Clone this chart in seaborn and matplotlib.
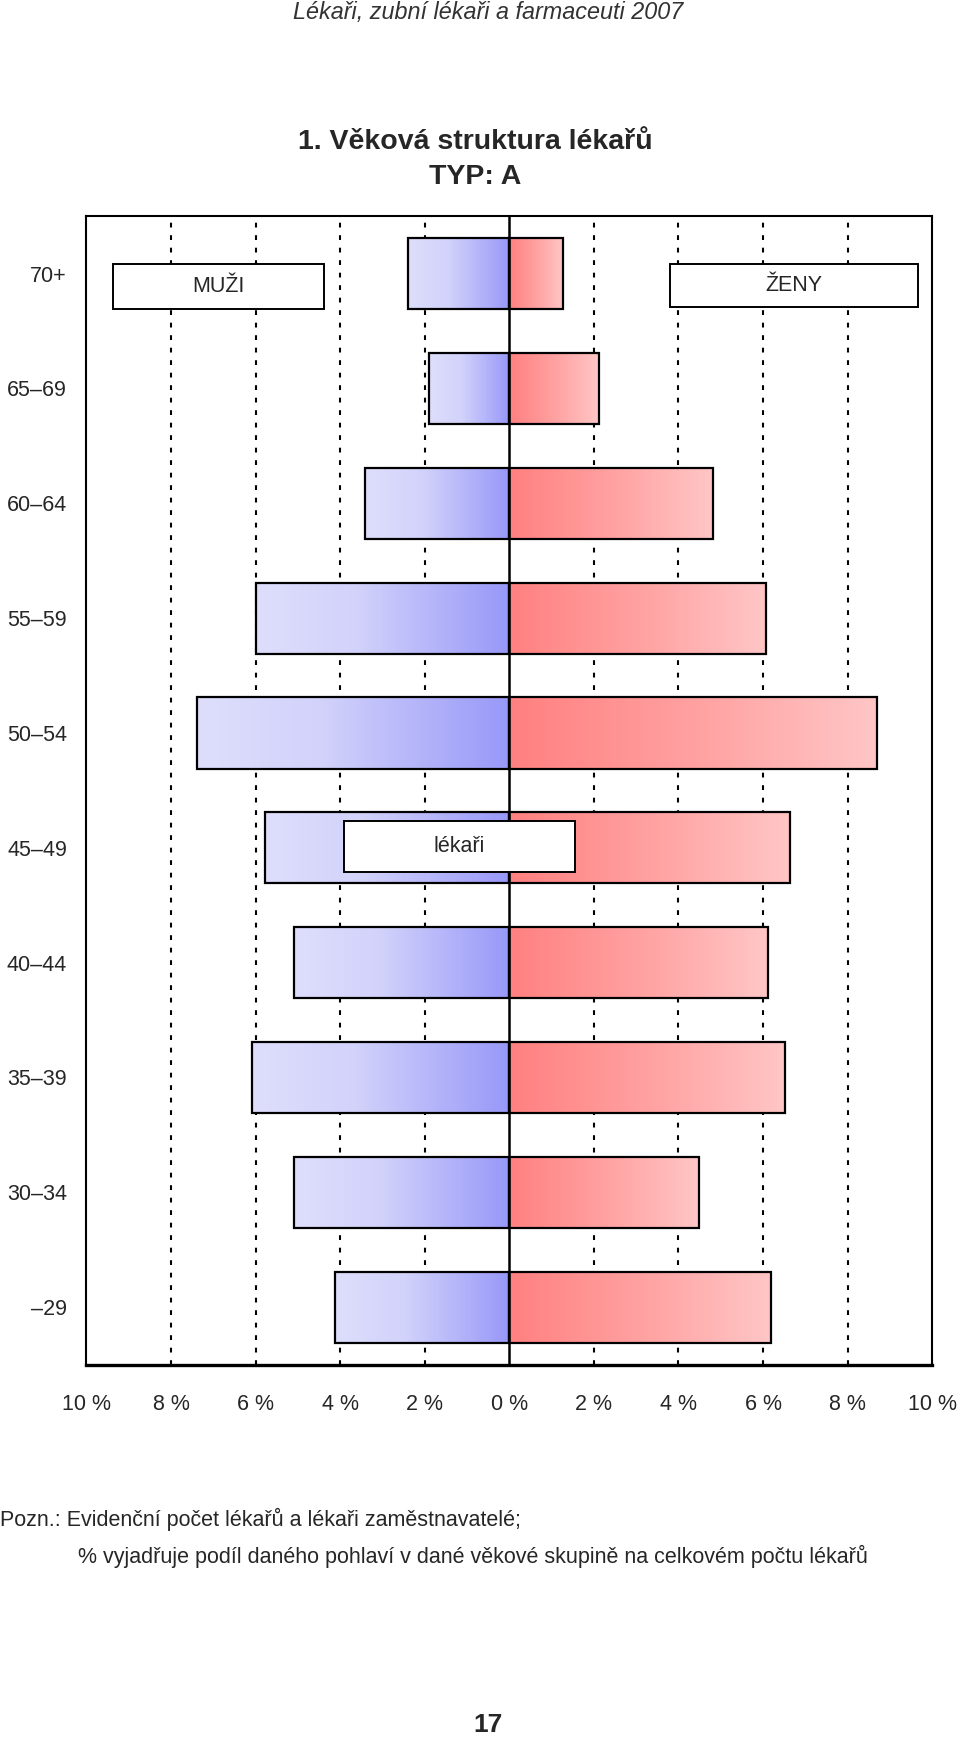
import numpy as np
import pandas as pd
import matplotlib
matplotlib.use("Agg")
import matplotlib.pyplot as plt
import seaborn as sns
from matplotlib.patches import Rectangle
from matplotlib.colors import LinearSegmentedColormap

# Data (share of all doctors, %)
age_groups = ["70+", "65–69", "60–64", "55–59", "50–54",
              "45–49", "40–44", "35–39", "30–34", "–29"]
men_pct = [2.39, 1.91, 3.41, 5.98, 7.39, 5.77, 5.09, 6.08, 5.09, 4.12]
women_pct = [1.26, 2.12, 4.82, 6.06, 8.70, 6.63, 6.11, 6.53, 4.48, 6.19]
tick_values = [-10, -8, -6, -4, -2, 0, 2, 4, 6, 8, 10]
tick_labels = ["10 %", "8 %", "6 %", "4 %", "2 %", "0 %",
               "2 %", "4 %", "6 %", "8 %", "10 %"]

sns.set_style("white")
plt.rcParams['font.family'] = ['Liberation Sans Narrow', 'Liberation Sans', 'DejaVu Sans']

# long table, men drawn to the left as negative values
df = pd.DataFrame({
    "age": age_groups * 2,
    "sex": ["muži"] * len(age_groups) + ["ženy"] * len(age_groups),
    "value": [-v for v in men_pct] + women_pct,
})

fig = plt.figure(figsize=(9.6, 17.39), dpi=100)
ax = fig.add_axes([0.090, 0.2153, 0.881, 0.6604])

sns.barplot(data=df, x="value", y="age", hue="sex", order=age_groups,
            dodge=False, width=0.62, legend=False, ax=ax,
            palette=["#9999f8", "#ff8080"])

# gradient fill inside each bar
men_cmap = LinearSegmentedColormap.from_list(
    "men", [(0, "#dedefc"), (0.4, "#d2d2fb"), (1, "#9898f9")])
women_cmap = LinearSegmentedColormap.from_list(
    "women", [(0, "#ff8080"), (0.55, "#ffa4a4"), (1, "#ffc6c6")])
grad = np.linspace(0, 1, 256).reshape(1, -1)
for patch in list(ax.patches):
    bb = patch.get_bbox()
    x0, x1 = min(bb.x0, bb.x1), max(bb.x0, bb.x1)
    y0, y1 = min(bb.y0, bb.y1), max(bb.y0, bb.y1)
    if x1 - x0 <= 0:
        continue
    cmap = men_cmap if x0 < 0 else women_cmap
    im = ax.imshow(grad, cmap=cmap, aspect="auto", extent=[x0, x1, y1, y0],
                   zorder=2, interpolation="bilinear")
    im.set_clip_path(patch)
    patch.set_facecolor("none")
    patch.set_edgecolor("black")
    patch.set_linewidth(1.6)
    patch.set_zorder(3)

# dashed verticals and the solid zero line
for v in tick_values[1:-1]:
    if v != 0:
        ax.axvline(v, color="black", lw=1.5, ls=(0, (2.3, 3.7)), zorder=0)
ax.axvline(0, color="black", lw=1.8, zorder=4)

# label boxes
boxes = [((-9.36, -0.087), 4.98, 0.397, "MUŽI"),
         ((3.80, -0.087), 5.87, 0.38, "ŽENY"),
         ((-3.91, 4.77), 5.46, 0.44, "lékaři")]
for (bx, by), bw, bh, label in boxes:
    ax.add_patch(Rectangle((bx, by), bw, bh, facecolor="white",
                           edgecolor="black", lw=1.4, zorder=5))
    ax.text(bx + bw / 2, by + bh / 2, label, ha="center", va="center",
            fontsize=15.5, zorder=6)

ax.set_xlim(-10, 10)
ax.set_ylim(9.5, -0.5)
ax.set_xticks(tick_values, tick_labels)
ax.set_xlabel("")
ax.set_ylabel("")
ax.tick_params(axis="x", length=9, width=1.5, direction="out", pad=12,
               labelsize=15.5, color="black")
ax.tick_params(axis="y", length=0, pad=14, labelsize=15.5)
for side in ["top", "left", "right"]:
    ax.spines[side].set_color("black")
    ax.spines[side].set_linewidth(1.5)
ax.spines["bottom"].set_color("black")
ax.spines["bottom"].set_linewidth(2.4)

# page texts
fig.text(488 / 960, 1 - 13 / 1739, "Lékaři, zubní lékaři a farmaceuti 2007",
         ha="center", va="center", style="italic", color="#333333", fontsize=16.8)
fig.text(475 / 960, 1 - 142 / 1739, "1. Věková struktura lékařů",
         ha="center", va="center", fontweight="bold", fontsize=20.5)
fig.text(475 / 960, 1 - 177 / 1739, "TYP: A",
         ha="center", va="center", fontweight="bold", fontsize=20.5)
fig.text(0.0, 1 - 1519 / 1739,
         "Pozn.: Evidenční počet lékařů a lékaři zaměstnavatelé;",
         ha="left", va="center", fontsize=15.5)
fig.text(78 / 960, 1 - 1556 / 1739,
         "% vyjadřuje podíl daného pohlaví v dané věkové skupině na celkovém počtu lékařů",
         ha="left", va="center", fontsize=15.5)
fig.text(488 / 960, 1 - 1725 / 1739, "17", ha="center", va="center",
         fontweight="bold", fontsize=19)

fig.savefig("out.png", dpi=100)
